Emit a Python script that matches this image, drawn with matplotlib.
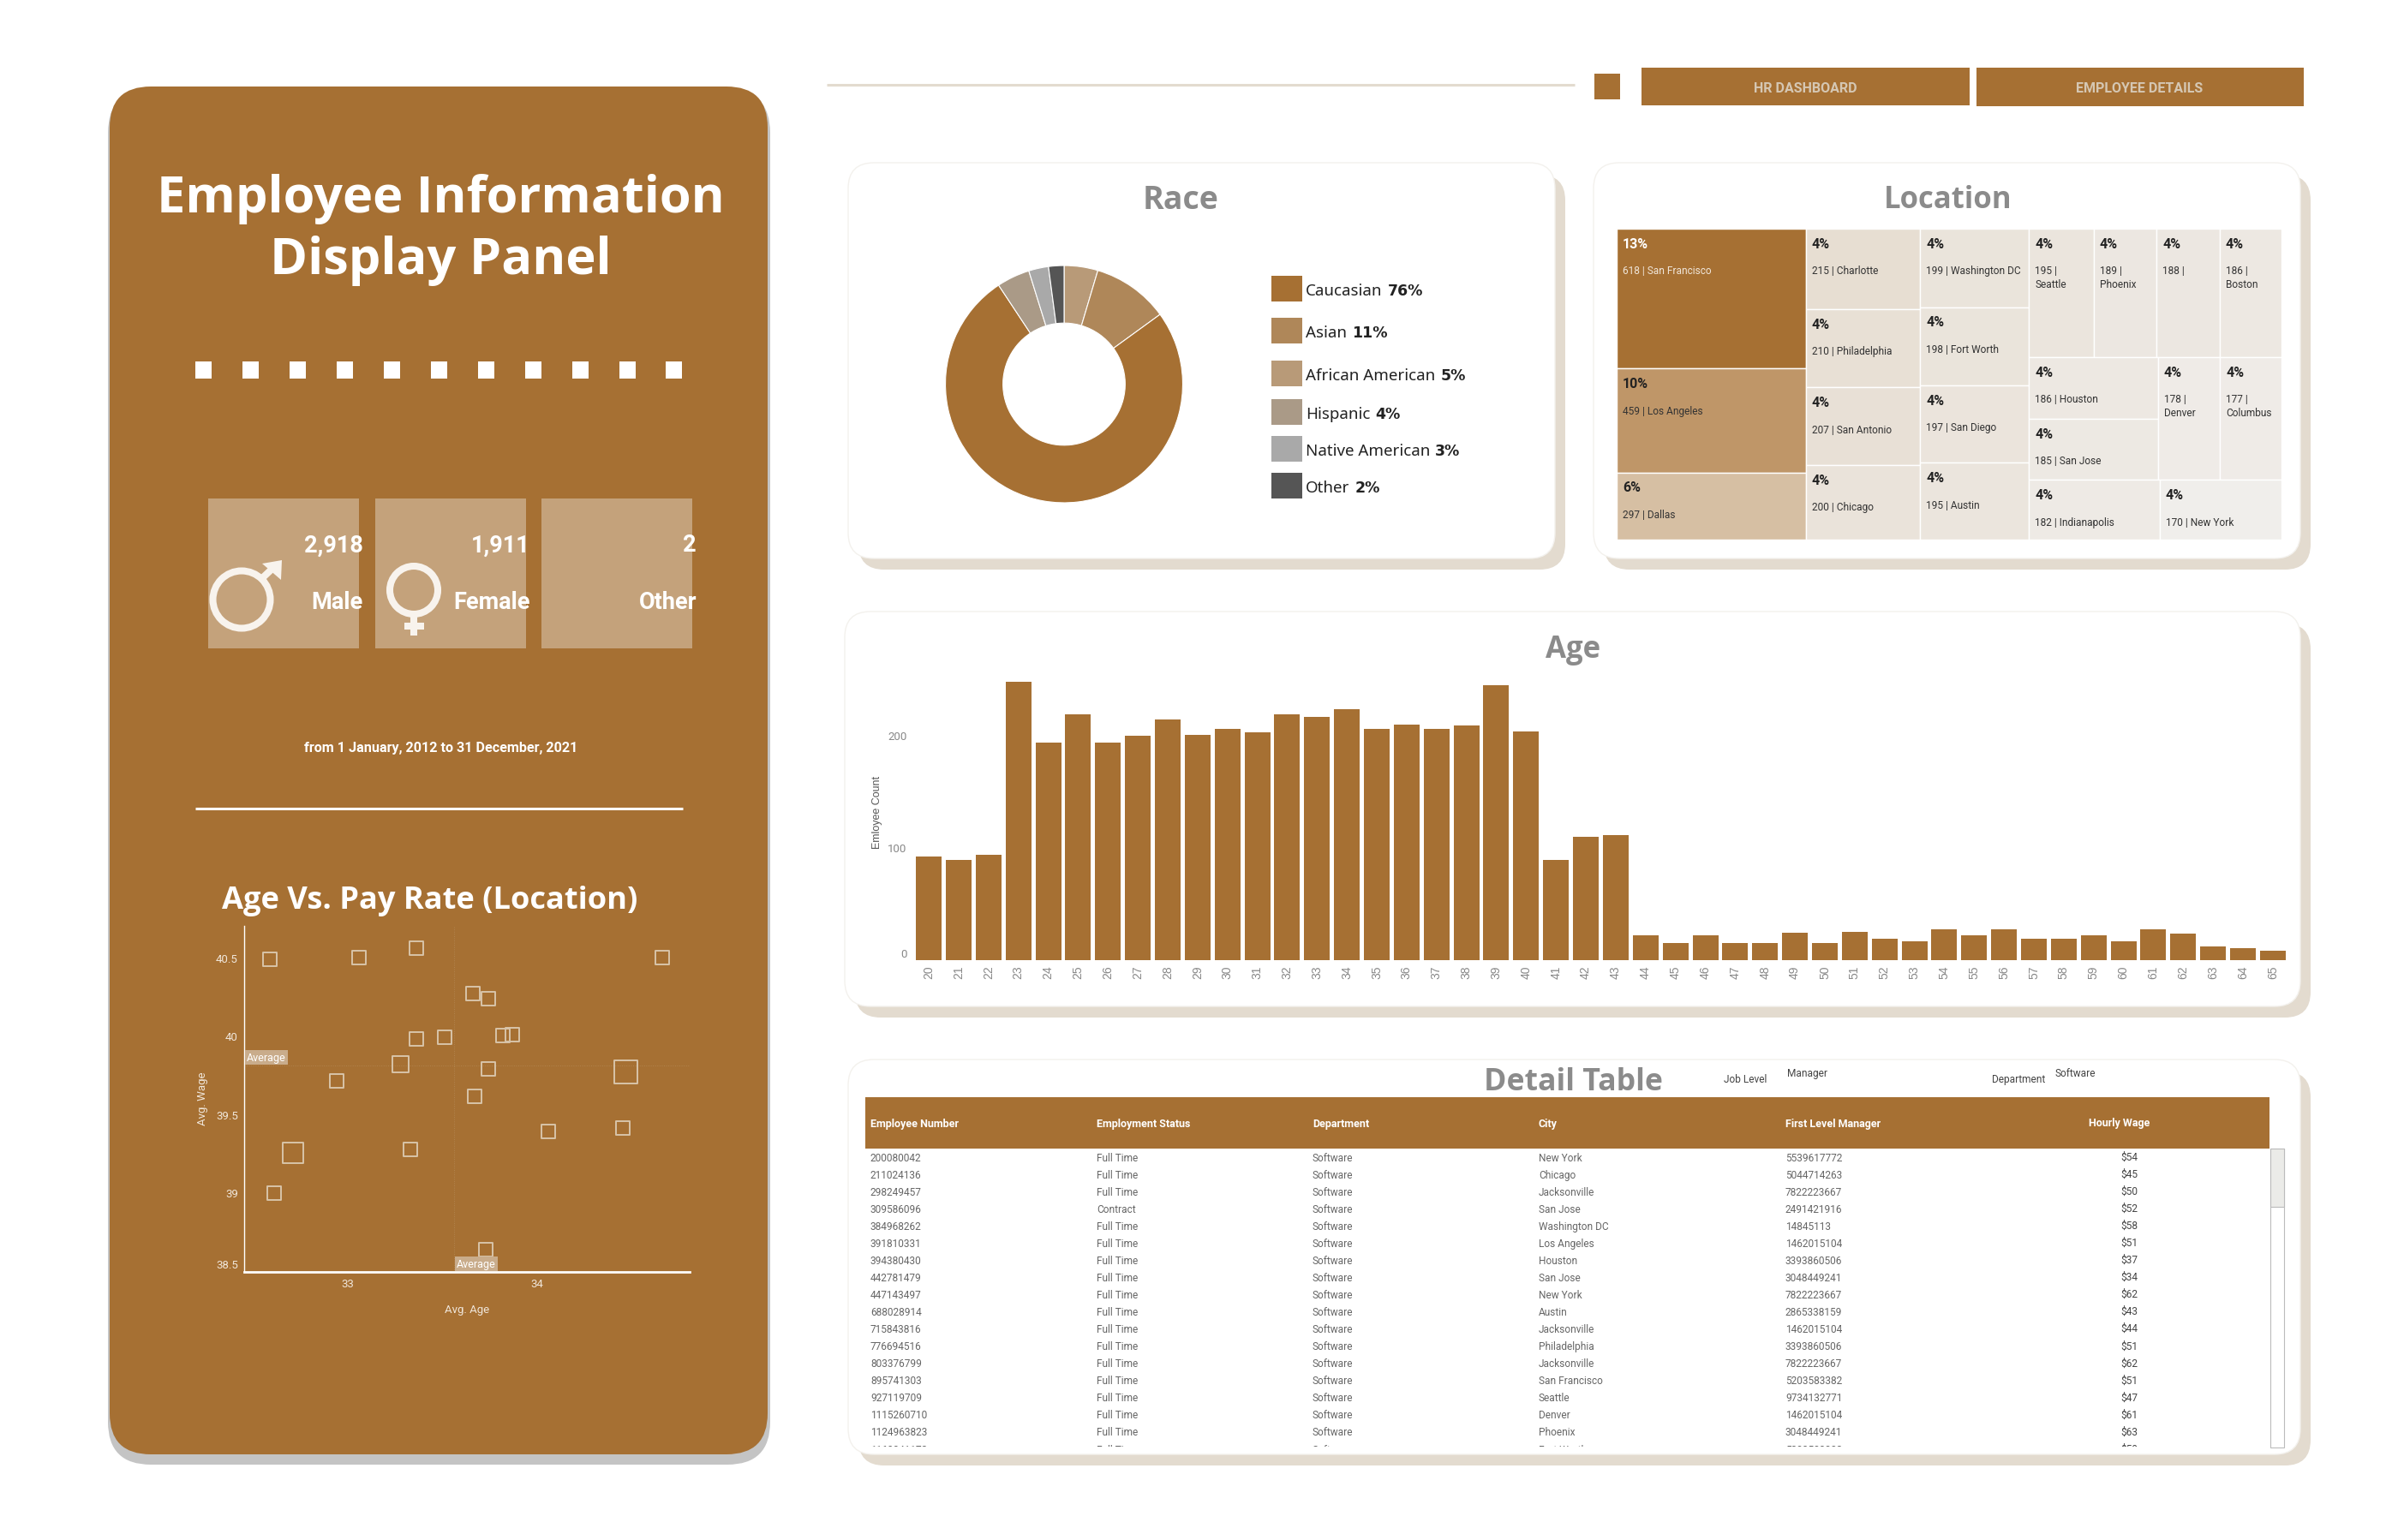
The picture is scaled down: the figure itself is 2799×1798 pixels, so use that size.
# -*- coding: utf-8 -*-
"""HR employee dashboard rebuilt with matplotlib."""

import matplotlib
matplotlib.use("Agg")
import matplotlib.pyplot as plt
from matplotlib.colors import LinearSegmentedColormap, Normalize
from matplotlib.patches import Circle, FancyBboxPatch, Polygon, Rectangle

W, H = 2799, 1799
BROWN = "#A67033"
CARD_TAN = "#C4A27B"
SHADOW = "#E3DBCF"
TITLE_GREY = "#8B8B8B"
HEAD_FONT = "Open Sans"

plt.rcParams["font.family"] = ["Roboto", "DejaVu Sans"]

# gender cards
gender_counts = ["2,918", "1,911", "2"]
gender_names = ["Male", "Female", "Other"]

# scatter: avg age / avg wage per location, marker side in px
scatter_age = [32.59, 33.06, 33.36, 34.66, 33.66, 33.74, 33.36, 33.51, 33.82, 33.87, 33.28,
               32.94, 33.74, 34.47, 33.67, 34.06, 34.45, 32.71, 33.33, 32.61, 33.73]
scatter_wage = [40.49, 40.50, 40.56, 40.50, 40.27, 40.24, 39.98, 39.99, 40.00, 40.01, 39.82,
                39.71, 39.79, 39.77, 39.61, 39.39, 39.41, 39.25, 39.27, 38.99, 38.63]
scatter_side = [16, 16, 16, 16, 16, 16, 16, 16, 16, 16, 19,
                16, 16, 27, 16, 16, 16, 24, 16, 16, 16]
avg_age = 33.56
avg_wage = 39.81

# race donut, clockwise from 12 o'clock
donut_shares = [4.6, 10.4, 75.7, 4.5, 2.7, 2.1]
donut_colors = ["#B89A78", "#AF8759", BROWN, "#AA9A87", "#A9A9A9", "#555555"]
legend_names = ["Caucasian", "Asian", "African American", "Hispanic", "Native American", "Other"]
legend_pct = ["76%", "11%", "5%", "4%", "3%", "2%"]
legend_colors = [BROWN, "#AF8759", "#B89A78", "#AA9A87", "#A9A9A9", "#555555"]

# location treemap
loc_names = ["San Francisco", "Los Angeles", "Dallas", "Charlotte", "Philadelphia", "San Antonio",
             "Chicago", "Washington DC", "Fort Worth", "San Diego", "Austin", "Seattle", "Phoenix",
             "", "Boston", "Houston", "San Jose", "Denver", "Columbus", "Indianapolis", "New York"]
loc_counts = [618, 459, 297, 215, 210, 207, 200, 199, 198, 197, 195, 195, 189,
              188, 186, 186, 185, 178, 177, 182, 170]
loc_pct = ["13%", "10%", "6%"] + ["4%"] * 18
loc_tree = ("h", [("v", [0, 1, 2]), ("v", [3, 4, 5, 6]), ("v", [7, 8, 9, 10]),
                  ("v", [("h", [11, 12, 13, 14]),
                         ("h", [("v", [15, 16]), 17, 18]),
                         ("h", [19, 20])])])

# age histogram
ages = list(range(20, 66))
age_counts = [92, 89, 93, 247, 193, 218, 193, 199, 214, 200, 205, 202, 218, 216, 223, 205, 209,
              205, 208, 244, 203, 89, 109, 111, 22, 15, 22, 15, 15, 24, 15, 25, 19, 16, 27, 22,
              27, 19, 19, 22, 16, 27, 23, 12, 10, 8]

# detail table
table_headers = ["Employee Number", "Employment Status", "Department", "City", "First Level Manager"]
emp_numbers = ["200080042", "211024136", "298249457", "309586096", "384968262", "391810331",
               "394380430", "442781479", "447143497", "688028914", "715843816", "776694516",
               "803376799", "895741303", "927119709", "1115260710", "1124963823", "1160841172"]
emp_status = ["Full Time", "Full Time", "Full Time", "Contract"] + ["Full Time"] * 14
emp_dept = ["Software"] * 18
emp_city = ["New York", "Chicago", "Jacksonville", "San Jose", "Washington DC", "Los Angeles",
            "Houston", "San Jose", "New York", "Austin", "Jacksonville", "Philadelphia",
            "Jacksonville", "San Francisco", "Seattle", "Denver", "Phoenix", "Fort Worth"]
emp_manager = ["5539617772", "5044714263", "7822223667", "2491421916", "14845113", "1462015104",
               "3393860506", "3048449241", "7822223667", "2865338159", "1462015104", "3393860506",
               "7822223667", "5203583382", "9734132771", "1462015104", "3048449241", "5203583382"]
emp_wage = ["$54", "$45", "$50", "$52", "$58", "$51", "$37", "$34", "$62", "$43", "$44", "$51",
            "$62", "$51", "$47", "$61", "$63", "$59"]

fig = plt.figure(figsize=(W / 100, H / 100), dpi=100, facecolor="white")

# page level axes in pixel coordinates, carries the panels and loose text
bg = fig.add_axes([0, 0, 1, 1])
bg.set_xlim(0, W)
bg.set_ylim(H, 0)
bg.axis("off")


def px_axes(x0, y0, x1, y1):
    ax = fig.add_axes([x0 / W, 1 - y1 / H, (x1 - x0) / W, (y1 - y0) / H])
    ax.set_facecolor("none")
    return ax


def rounded(x0, y0, x1, y1, radius, color, edge="none"):
    bg.add_patch(FancyBboxPatch((x0, y0), x1 - x0, y1 - y0, facecolor=color, edgecolor=edge,
                                linewidth=1, boxstyle=f"round,pad=0,rounding_size={radius}"))


def card(x0, y0, x1, y1):
    rounded(x0 + 12, y0 + 14, x1 + 12, y1 + 13, 30, SHADOW)
    rounded(x0, y0, x1, y1, 30, "white", edge="#F3F1ED")


def label(x, y, s, size, color="white", weight="normal", ha="center", family=None, **kw):
    if family:
        kw["family"] = family
    return bg.text(x, y, s, fontsize=size, color=color, fontweight=weight,
                   ha=ha, va="center", **kw)


# left panel
rounded(126, 106, 899, 1711, 50, "#C4C4C4")
rounded(128, 102, 896, 1699, 48, BROWN)
label(514, 233, "Employee Information", 42.8, weight="bold", family=HEAD_FONT)
label(514, 305, "Display Panel", 42.8, weight="bold", family=HEAD_FONT)

for i in range(11):
    cx = 238 + i * 54.9
    bg.add_patch(Rectangle((cx - 9.5, 423), 19, 20, facecolor="white", edgecolor="none"))

for x0, count, name in zip([243, 438, 632], gender_counts, gender_names):
    bg.add_patch(Rectangle((x0, 583), 176, 175, facecolor=CARD_TAN, edgecolor="none"))
    label(x0 + 181, 637, count, 19.5, weight="bold", ha="right")
    label(x0 + 181, 704, name, 19.5, weight="bold", ha="right")

# gender icons
icon = "#F8F3ED"
bg.add_patch(Circle((282, 701), 33.5, facecolor="none", edgecolor=icon, linewidth=5.8))
bg.plot([305, 322], [677, 661], color=icon, linewidth=5.8, solid_capstyle="butt")
bg.add_patch(Polygon([(329, 655), (306, 659), (328, 678)], facecolor=icon, edgecolor="none"))
bg.add_patch(Circle((483, 690), 28, facecolor="none", edgecolor=icon, linewidth=5.8))
bg.plot([483, 483], [718, 743], color=icon, linewidth=5.8, solid_capstyle="butt")
bg.plot([472, 495], [732, 732], color=icon, linewidth=5.8, solid_capstyle="butt")

label(515, 874, "from 1 January, 2012 to 31 December, 2021", 11.6, weight="bold")
bg.plot([228, 797], [945, 945], color="white", linewidth=2.2, solid_capstyle="butt")
label(502, 1052, "Age Vs. Pay Rate (Location)", 26.1, weight="bold", family=HEAD_FONT)

# scatter
ax = px_axes(285, 1082, 805, 1486)
ax.scatter(scatter_age, scatter_wage, s=[(v * 0.72) ** 2 for v in scatter_side], marker="s",
           facecolors="none", edgecolors="#D8C4A9", linewidths=1.4, zorder=3)
ax.axvline(avg_age, color="#B2854F", linewidth=0.7, linestyle=":")
ax.axhline(avg_wage, color="#B2854F", linewidth=0.7, linestyle=":")
ax.set_xlim(32.452, 34.805)
ax.set_ylim(38.488, 40.704)
ax.set_xticks([33, 34], ["33", "34"])
ax.set_yticks([38.5, 39, 39.5, 40, 40.5], ["38.5", "39", "39.5", "40", "40.5"])
ax.get_yticklabels()[0].set_va("bottom")
ax.tick_params(length=0, colors="#F0E6DA", labelsize=9.5)
ax.tick_params(axis="x", pad=5)
ax.tick_params(axis="y", pad=5)
for side in ["top", "right"]:
    ax.spines[side].set_visible(False)
ax.spines["left"].set_color("white")
ax.spines["left"].set_linewidth(1.0)
ax.spines["bottom"].set_color("white")
ax.spines["bottom"].set_linewidth(2.0)
box = dict(facecolor="#C9AC8B", edgecolor="none", pad=1.5)
ax.annotate("Average", (0, avg_wage), xycoords=ax.get_yaxis_transform(), xytext=(2, 2),
            textcoords="offset points", color="white", fontsize=9, va="bottom", bbox=box)
ax.annotate("Average", (avg_age, 0), xycoords=ax.get_xaxis_transform(), xytext=(2, 2),
            textcoords="offset points", color="white", fontsize=9, va="bottom", bbox=box)
label(545, 1530, "Avg. Age", 9.5, color="#F0E6DA")
label(237, 1283, "Avg. Wage", 9.5, color="#F0E6DA", rotation=90)

# header strip
bg.plot([965, 1838], [100, 100], color=SHADOW, linewidth=2.2, solid_capstyle="butt")
bg.add_patch(Rectangle((1861, 87), 30, 30, facecolor=BROWN, edgecolor="none"))
bg.add_patch(Rectangle((1916, 80), 383, 44, facecolor=BROWN, edgecolor="none"))
bg.add_patch(Rectangle((2307, 80), 382, 45, facecolor=BROWN, edgecolor="none"))
label(2107, 103, "HR DASHBOARD", 11.5, color="#D5C7B3", weight="bold")
label(2497, 103, "EMPLOYEE DETAILS", 11.5, color="#D5C7B3", weight="bold")

# race card
card(990, 191, 1815, 653)
label(1378, 234, "Race", 27, color=TITLE_GREY, weight="bold", family=HEAD_FONT)
ax = px_axes(1242 - 145.4, 449.5 - 145.4, 1242 + 145.4, 449.5 + 145.4)
ax.pie(donut_shares, colors=donut_colors, startangle=90, counterclock=False,
       wedgeprops=dict(width=0.485, edgecolor="white", linewidth=0.8))
ax.set_xlim(-1.05, 1.05)
ax.set_ylim(-1.05, 1.05)

renderer = fig.canvas.get_renderer()
swatch_tops = [323, 372, 422, 467, 510, 553]
for top, name, pct, color in zip(swatch_tops, legend_names, legend_pct, legend_colors):
    bg.add_patch(Rectangle((1484, top), 36, 30, facecolor=color, edgecolor="none"))
    first = label(1524, top + 17, name, 13.5, color="#222222", ha="left", family="Noto Sans")
    right = first.get_window_extent(renderer).x1
    label(right + 6, top + 17, pct, 12.5, color="#222222", weight="bold", ha="left", family="DejaVu Sans")

# location card
card(1860, 191, 2685, 653)
label(2274, 234, "Location", 25, color=TITLE_GREY, weight="bold", family=HEAD_FONT)
ax = px_axes(1887, 268, 2663, 631)
ax.set_xlim(0, 1)
ax.set_ylim(1, 0)
ax.axis("off")
loc_cmap = LinearSegmentedColormap.from_list(
    "loc", [(0, "#F0EEEB"), (0.283, "#D6BFA3"), (0.64, "#BF9769"), (1, BROWN)])
loc_norm = Normalize(min(loc_counts), max(loc_counts))


def node_total(node):
    if isinstance(node, int):
        return loc_counts[node]
    return sum(node_total(child) for child in node[1])


def draw_cell(i, x, y, w, h):
    ax.add_patch(Rectangle((x, y), w, h, facecolor=loc_cmap(loc_norm(loc_counts[i])),
                           edgecolor="white", linewidth=1))
    pct_color = "white" if i == 0 else "#222222"
    text_color = "#F0E6DA" if i == 0 else "#333333"
    ax.annotate(loc_pct[i], (x, y), xytext=(5, -12.5), textcoords="offset points",
                fontsize=11.5, fontweight="bold", color=pct_color, va="center")
    sep = "\n" if w < 0.1 else " "
    text = f"{loc_counts[i]} |{sep}{loc_names[i]}".strip()
    ax.annotate(text, (x, y), xytext=(5, -30.5), textcoords="offset points", fontsize=8.6,
                color=text_color, va="top", linespacing=1.3)


def layout(node, x, y, w, h):
    if isinstance(node, int):
        draw_cell(node, x, y, w, h)
        return
    total = node_total(node)
    for child in node[1]:
        part = node_total(child) / total
        if node[0] == "h":
            layout(child, x, y, w * part, h)
            x += w * part
        else:
            layout(child, x, y, w, h * part)
            y += h * part


layout(loc_tree, 0, 0, 1, 1)

# age card
card(986, 715, 2685, 1176)
label(1836, 759, "Age", 25, color=TITLE_GREY, weight="bold", family=HEAD_FONT)
ax = px_axes(1060, 771, 2677, 1121.5)
ax.bar(ages, age_counts, width=0.86, color=BROWN)
ax.set_xlim(19.31, 65.69)
ax.set_ylim(0, 267)
ax.set_xticks(ages, [str(a) for a in ages], rotation=90, family="Liberation Sans")
ax.set_yticks([0, 100, 200], ["0", "100", "200"])
ax.get_yticklabels()[0].set_va("bottom")
ax.tick_params(length=0, colors="#888888", labelsize=10)
ax.tick_params(axis="x", pad=4.2)
ax.tick_params(axis="y", pad=1, labelsize=9.5)
for side in ax.spines.values():
    side.set_visible(False)
label(1024, 948, "Emloyee Count", 9, color="#555555", rotation=90, family="Liberation Sans")

# detail table card
card(990, 1238, 2685, 1699)
label(1836, 1264, "Detail Table", 25.7, color=TITLE_GREY, weight="bold", family=HEAD_FONT)
label(2012, 1261, "Job Level", 8.6, color="#444444", ha="left")
label(2086, 1254, "Manager", 8.6, color="#444444", ha="left")
label(2325, 1261, "Department", 8.6, color="#444444", ha="left")
label(2399, 1254, "Software", 8.6, color="#444444", ha="left")

bg.add_patch(Rectangle((1010, 1281.5), 1639, 60, facecolor=BROWN, edgecolor="none"))
column_x = [1016, 1280, 1532, 1796, 2084]
for x, name in zip(column_x, table_headers):
    label(x, 1312.5, name, 9, weight="bold", ha="left")
label(2474, 1311.5, "Hourly Wage", 9, weight="bold")

# rows live in their own axes so the last one is cut off at the bottom edge
ax = px_axes(1010, 1341.5, 2649, 1690)
ax.set_xlim(1010, 2649)
ax.set_ylim(16.85, -0.55)
ax.axis("off")
for col, x in zip([emp_numbers, emp_status, emp_dept, emp_city, emp_manager], column_x):
    for row, value in enumerate(col):
        ax.text(x, row, value, fontsize=8.6, color="#666666", va="center", clip_on=True)
for row, value in enumerate(emp_wage):
    ax.text(2475, row - 0.05, value, fontsize=8.6, color="#444444", va="center", clip_on=True)

# scrollbar
bg.add_patch(Rectangle((2650, 1341.5), 16, 349, facecolor="white", edgecolor="#BBBBBB", linewidth=0.8))
bg.add_patch(Rectangle((2650, 1341.5), 16, 68, facecolor="#EBEBE8", edgecolor="#BBBBBB", linewidth=0.8))

fig.savefig("out.png", dpi=100)
plt.close(fig)
